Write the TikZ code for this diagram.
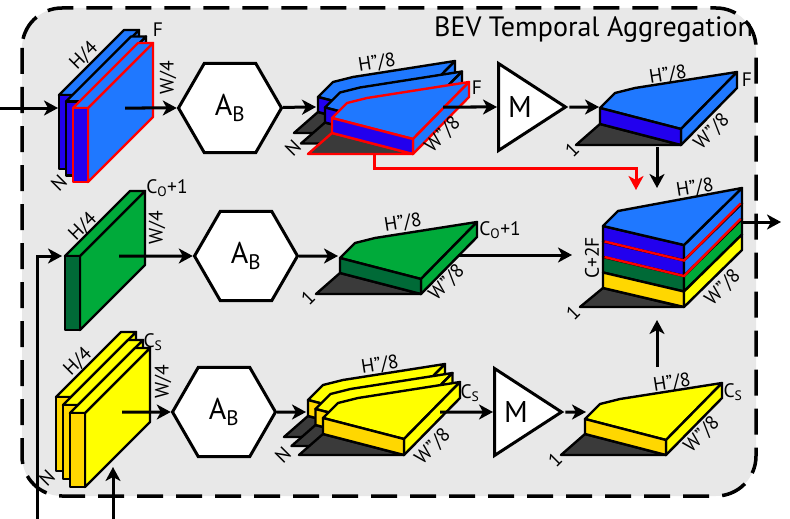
\documentclass[tikz,border=0pt]{standalone}
\usepackage{fontspec}
\setmainfont{PT Sans}
\usetikzlibrary{shapes.geometric,arrows.meta,positioning}
\definecolor{bgray}{RGB}{232,232,232}
\definecolor{blueL}{RGB}{31,120,255}
\definecolor{blueD}{RGB}{34,0,238}
\definecolor{greenL}{RGB}{0,170,58}
\definecolor{greenD}{RGB}{0,106,55}
\definecolor{yellowL}{RGB}{255,255,0}
\definecolor{goldD}{RGB}{255,215,0}
\definecolor{shade}{RGB}{58,58,58}
\tikzstyle{frame} = [draw, fill=bgray, line width=3.5pt, rounded corners=40pt, dash pattern=on 26pt off 13pt]
\tikzstyle{title} = [inner sep=0pt, font=\fontsize{28}{30}\selectfont]
\tikzstyle{slab} = [line width=2.4pt, line join=round]
\tikzstyle{hexa} = [draw, fill=white, line width=3pt, regular polygon, regular polygon sides=6, minimum size=103pt, inner sep=0pt, font=\fontsize{30}{32}\selectfont]
\tikzstyle{mergebox} = [draw, fill=white, line width=3pt, isosceles triangle, isosceles triangle stretches, minimum height=67pt, minimum width=87pt, inner sep=0pt, font=\fontsize{30}{32}\selectfont]
\tikzstyle{dim} = [inner sep=0pt, font=\fontsize{19.5}{21}\selectfont]
\tikzstyle{arr} = [line width=3pt, -{Stealth[length=14pt,width=15pt,inset=4pt]}]

% thin feature map: x, y, front, side, outline
\newcommand{\fslab}[5]{%
  \filldraw[slab, fill=#4, draw=#5] (#1+15,#2) -- ++(65,-65) -- ++(0,74) -- ++(-65,65) -- cycle;
  \filldraw[slab, fill=#4, draw=#5] (#1,#2) -- ++(65,-65) -- ++(15,0) -- ++(-65,65) -- cycle;
  \filldraw[slab, fill=#3, draw=#5] (#1,#2) rectangle ++(15,74);
}
% BEV wedge: x, y, front, top, outline, thickness
\newcommand{\bslab}[6]{%
  \begin{scope}[shift={(#1,#2)}]
    \filldraw[slab, fill=shade, draw=#5] (-24,21+#6) -- (81,21+#6) -- (0,#6) -- cycle;
    \filldraw[slab, fill=#4, draw=#5] (0,0) -- (15,-15) -- (35,-20) -- (137,-36) -- (81,21) -- cycle;
    \filldraw[slab, fill=#4, draw=#5] (81,21) -- (137,-36) -- (137,-36+#6) -- (81,21+#6) -- cycle;
    \filldraw[slab, fill=#3, draw=#5] (0,0) -- (81,21) -- (81,21+#6) -- (0,#6) -- cycle;
  \end{scope}
}

\begin{document}
\begin{tikzpicture}[x=1pt, y=-1pt]
\useasboundingbox (0,0) rectangle (790,519);
\draw[frame] (22,8) rectangle (756,496);
\node[title, anchor=base west] (title) at (434,37) {BEV Temporal Aggregation};

% camera branch
\fslab{59}{95}{blueD}{blueL}{black}
\fslab{66}{101.5}{blueD}{blueL}{black}
\fslab{73}{108}{blueD}{blueL}{red}
\coordinate (cam-src) at (0,108);
\coordinate (cam-in) at (58,108);
\coordinate (cam-out) at (125,108);
\node[hexa] (ab1) at (230,108) {A\textsubscript{B}};
\draw[arr] (cam-src) -- (cam-in);
\draw[arr] (cam-out) -- (ab1);

\bslab{318}{97}{blueD}{blueL}{black}{15}
\bslab{325}{107.5}{blueD}{blueL}{black}{15}
\bslab{332}{118}{blueD}{blueL}{red}{15}
\coordinate (bw1-in) at (316,107);
\coordinate (bw1-out) at (443,107);
\node[mergebox, anchor=west] (m1) at (497,107) {M};
\draw[arr] (ab1) -- (bw1-in);
\draw[arr] (bw1-out) -- (m1);

\bslab{600}{108}{blueD}{blueL}{black}{16}
\coordinate (bw2-in) at (599,107);
\coordinate (bw2-out) at (657,147);
\coordinate (stack-top) at (657,188);
\draw[arr] (m1) -- (bw2-in);
\draw[arr] (bw2-out) -- (stack-top);
\coordinate (skip-src) at (374,155);
\coordinate (skip-dst) at (636,190);
\draw[arr, red] (skip-src) -- ++(0,13) -| (skip-dst);

% lidar branch
\fslab{65}{256}{greenD}{greenL}{black}
\coordinate (lid-src) at (37,519);
\coordinate (lid-in) at (62,256);
\coordinate (lid-out) at (119,256);
\node[hexa] (ab2) at (246,256) {A\textsubscript{B}};
\draw[arr] (lid-src) |- (lid-in);
\draw[arr] (lid-out) -- (ab2);
\bslab{340}{258}{greenD}{greenL}{black}{15}
\coordinate (gw-in) at (338,256);
\coordinate (gw-out) at (458,255);
\coordinate (stack-left) at (572,255);
\draw[arr] (ab2) -- (gw-in);
\draw[arr] (gw-out) -- (stack-left);

% fused stack
\begin{scope}[shift={(603,226)}]
  \filldraw[slab, fill=shade] (-23,81) -- (80,81) -- (0,62) -- cycle;
  \foreach \fc/\sc [count=\i from 0] in {blueD/blueL, blueD/blueL, greenD/greenL, goldD/yellowL} {
    \filldraw[slab, fill=\fc] (0,\i*15.5) -- (81,19+\i*15.5) -- (81,34.5+\i*15.5) -- (0,15.5+\i*15.5) -- cycle;
    \filldraw[slab, fill=\sc] (81,19+\i*15.5) -- (139,-38+\i*15.5) -- (139,-22.5+\i*15.5) -- (81,34.5+\i*15.5) -- cycle;
  }
  \draw[red, line width=2.4pt] (1.5,15.5) -- (81,34.5) -- (137.5,-22.5);
  \draw[red, line width=2.4pt] (1.5,31) -- (81,50) -- (137.5,-7);
  \filldraw[slab, fill=blueL] (0,0) -- (15,-15) -- (139,-38) -- (81,19) -- cycle;
\end{scope}
\coordinate (stack-out) at (742,222);
\coordinate (fused) at (781,222);
\draw[arr] (stack-out) -- (fused);

% segmentation branch
\fslab{56}{397}{goldD}{yellowL}{black}
\fslab{63}{405}{goldD}{yellowL}{black}
\fslab{70}{413}{goldD}{yellowL}{black}
\coordinate (seg-src) at (113,519);
\coordinate (seg-in) at (113,467);
\coordinate (seg-out) at (122,412);
\node[hexa] (ab3) at (224,412) {A\textsubscript{B}};
\draw[arr] (seg-src) -- (seg-in);
\draw[arr] (seg-out) -- (ab3);
\bslab{308}{400}{goldD}{yellowL}{black}{16}
\bslab{315.5}{409}{goldD}{yellowL}{black}{16}
\bslab{323}{418}{goldD}{yellowL}{black}{16}
\coordinate (yw1-in) at (306,412);
\coordinate (yw1-out) at (440,412);
\node[mergebox, anchor=west] (m2) at (493,412) {M};
\draw[arr] (ab3) -- (yw1-in);
\draw[arr] (yw1-out) -- (m2);
\bslab{585}{419}{goldD}{yellowL}{black}{15}
\coordinate (yw2-in) at (586,412);
\coordinate (yw2-out) at (657,367);
\coordinate (stack-bot) at (657,320);
\draw[arr] (m2) -- (yw2-in);
\draw[arr] (yw2-out) -- (stack-bot);

% dimension labels
\node[dim, rotate=45] (cam-h) at (84,56) {H/4};
\node[dim] (cam-f) at (158,30) {F};
\node[dim, rotate=90] (cam-w) at (168,78) {W/4};
\node[dim, rotate=45] (cam-n) at (59,183) {N};
\node[dim, rotate=9] (bw1-h) at (377,63) {H''/8};
\node[dim] (bw1-f) at (477,88) {F};
\node[dim, rotate=45] (bw1-w) at (443,135) {W''/8};
\node[dim, rotate=45] (bw1-n) at (293,148) {N};
\node[dim, rotate=9] (bw2-h) at (668,75) {H''/8};
\node[dim] (bw2-f) at (747,80) {F};
\node[dim, rotate=45] (bw2-w) at (712,132) {W''/8};
\node[dim, rotate=45] (bw2-n) at (572,150) {1};

\node[dim, rotate=45] (lid-h) at (83,227) {H/4};
\node[dim] (lid-c) at (167,188) {C\textsubscript{O}+1};
\node[dim, rotate=90] (lid-w) at (157,228) {W/4};
\node[dim, rotate=9] (gw-h) at (403,223) {H''/8};
\node[dim] (gw-c) at (500,230) {C\textsubscript{O}+1};
\node[dim, rotate=45] (gw-w) at (447,283) {W''/8};
\node[dim, rotate=45] (gw-n) at (308,298) {1};
\node[dim, rotate=9] (st-h) at (695,188) {H''/8};
\node[dim, rotate=90] (st-c) at (592,258) {C+2F};
\node[dim, rotate=45] (st-w) at (723,288) {W''/8};
\node[dim, rotate=45] (st-n) at (573,313) {1};

\node[dim, rotate=45] (seg-h) at (78,362) {H/4};
\node[dim] (seg-c) at (153,342) {C\textsubscript{S}};
\node[dim, rotate=90] (seg-w) at (163,382) {W/4};
\node[dim, rotate=45] (seg-n) at (47,478) {N};
\node[dim, rotate=9] (yw1-h) at (380,365) {H''/8};
\node[dim] (yw1-c) at (470,393) {C\textsubscript{S}};
\node[dim, rotate=45] (yw1-w) at (433,447) {W''/8};
\node[dim, rotate=45] (yw1-n) at (283,455) {N};
\node[dim, rotate=9] (yw2-h) at (672,383) {H''/8};
\node[dim] (yw2-c) at (733,392) {C\textsubscript{S}};
\node[dim, rotate=45] (yw2-w) at (702,435) {W''/8};
\node[dim, rotate=45] (yw2-n) at (555,460) {1};
\end{tikzpicture}
\end{document}
